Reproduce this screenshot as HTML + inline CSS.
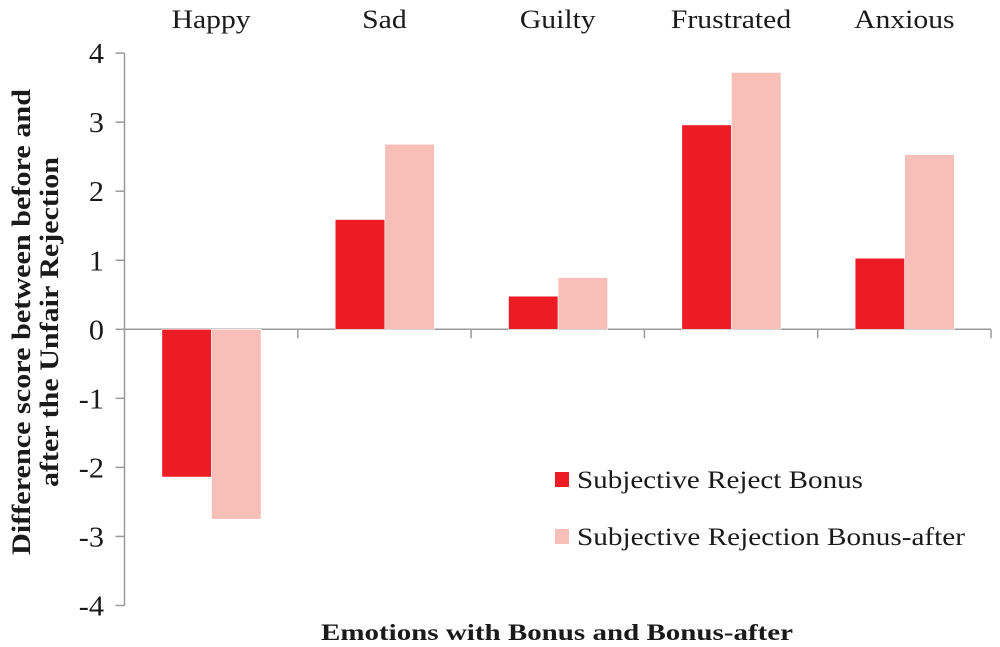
<!DOCTYPE html>
<html><head><meta charset="utf-8"><style>
html,body{margin:0;padding:0;background:#fff;}
svg{display:block;font-family:"Liberation Serif",serif;}
</style></head><body>
<svg id="chart" width="1000" height="647" viewBox="0 0 1000 647">
<g id="grid"></g>
<g id="bars"></g>
<g id="labels"></g>
<text id="xtitle" x="557" y="640" text-anchor="middle" font-size="23" font-weight="bold" fill="#1a1a1a" textLength="472" lengthAdjust="spacingAndGlyphs">Emotions with Bonus and Bonus-after</text>
<g transform="translate(0,322) rotate(-90)">
<text x="0" y="30" text-anchor="middle" font-size="26" font-weight="bold" fill="#1a1a1a" textLength="466" lengthAdjust="spacingAndGlyphs">Difference score between before and</text>
<text x="0" y="58" text-anchor="middle" font-size="26" font-weight="bold" fill="#1a1a1a" textLength="330" lengthAdjust="spacingAndGlyphs">after the Unfair Rejection</text>
</g>
<g>
<rect x="555" y="472" width="14" height="15" fill="#ed1c24"/>
<text x="577" y="488" font-size="25" fill="#1a1a1a" textLength="286" lengthAdjust="spacingAndGlyphs">Subjective Reject Bonus</text>
<rect x="555" y="529" width="14" height="15" fill="#f8bfb8"/>
<text x="577" y="545" font-size="25" fill="#1a1a1a" textLength="388" lengthAdjust="spacingAndGlyphs">Subjective Rejection Bonus-after</text>
</g>
</svg>
<script>
const categories = ["Happy","Sad","Guilty","Frustrated","Anxious"];
const rejectBonus = [-2.14, 1.59, 0.48, 2.96, 1.03];
const rejectionBonusAfter = [-2.75, 2.68, 0.75, 3.72, 2.53];
const yTicks = [4,3,2,1,0,-1,-2,-3,-4];

const NS = "http://www.w3.org/2000/svg";
const x0 = 124.5, catW = 173.3, yZero = 329.3, unit = 69.05;
function y(v){ return yZero - v*unit; }
function catX(i){ return x0 + i*catW; }
function mk(tag, attrs, parent){
  const el = document.createElementNS(NS, tag);
  for (const k in attrs) el.setAttribute(k, attrs[k]);
  parent.appendChild(el);
  return el;
}
function stretch(el, f){
  const w = el.getComputedTextLength();
  el.setAttribute('textLength', (w*f).toFixed(1));
  el.setAttribute('lengthAdjust','spacingAndGlyphs');
}
const grid = document.getElementById('grid');
const bars = document.getElementById('bars');
const labels = document.getElementById('labels');
const axisCol = "#9a9a9a";

const yAxis = mk('line',{x1:x0,y1:y(4),x2:x0,y2:y(-4),stroke:axisCol,'stroke-width':1.5},grid);


yTicks.forEach(t=>{
  const tk = mk('line',{x1:x0-9,y1:y(t),x2:x0,y2:y(t),stroke:axisCol,'stroke-width':1.5},grid);
  
  
  const lb = mk('text',{x:104,y:y(t)+10,'text-anchor':'end','font-size':28,fill:'#1a1a1a'},labels);
  lb.textContent = String(t);
  
  
  stretch(lb, 1.08);
});
const xAxis = mk('line',{x1:x0,y1:yZero,x2:catX(categories.length),y2:yZero,stroke:axisCol,'stroke-width':1.5},grid);


for(let i=1;i<=categories.length;i++){
  const tk = mk('line',{x1:catX(i),y1:yZero,x2:catX(i),y2:yZero+9,stroke:axisCol,'stroke-width':1.5},grid);
  
  
}
const bw = 49.6, off = 37.4;
categories.forEach((c,i)=>{
  const lb = mk('text',{x:catX(i)+catW/2,y:28,'text-anchor':'middle','font-size':26,fill:'#1a1a1a'},labels);
  lb.textContent = c;
  
  
  stretch(lb, 1.14);
  [[rejectBonus,'#ed1c24','bar-reject-bonus'],[rejectionBonusAfter,'#f8bfb8','bar-bonus-after']].forEach((s,j)=>{
    const v = s[0][i];
    const top = Math.min(y(v), yZero), h = Math.abs(y(v)-yZero);
    const r = mk('rect',{x:catX(i)+off+j*bw,y:top,width:bw,height:h,fill:s[1],stroke:'#fff','stroke-width':0.6},bars);
    
    
  });
});
</script>
</body></html>
